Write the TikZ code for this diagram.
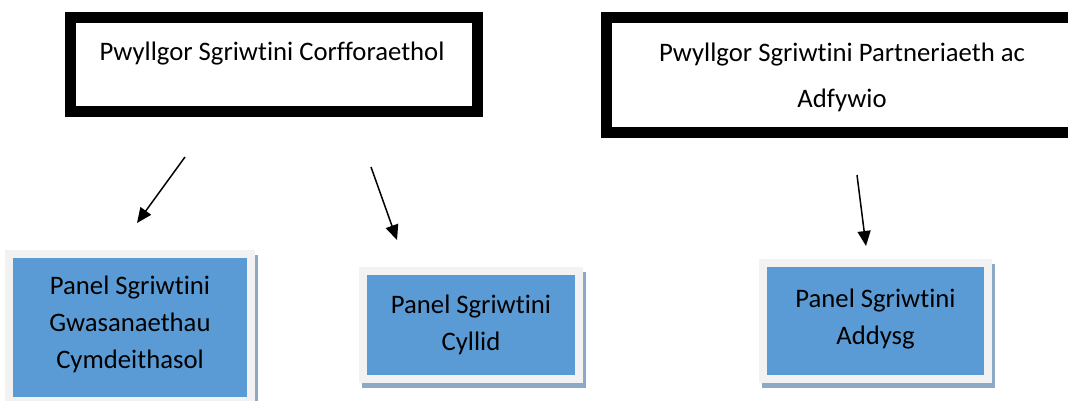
\documentclass[tikz,border=0pt]{standalone}
\usepackage{fontspec}
\setmainfont{Carlito}[Ligatures={NoCommon}]
\usetikzlibrary{arrows.meta}
\definecolor{panelblue}{HTML}{5B9BD5}
\definecolor{panelgray}{HTML}{F2F2F2}
\definecolor{panelshadow}{HTML}{8EA9C8}
\begin{document}
\begin{tikzpicture}[x=1pt,y=-1pt,
  committee/.style={draw=black, line width=11pt, fill=white, inner sep=0pt, outer sep=0pt},
  labeltext/.style={font=\fontsize{26.7}{46}\selectfont, align=center, inner sep=0pt, anchor=base},
  panel/.style={fill=panelblue, draw=panelgray, line width=8pt, inner sep=0pt, outer sep=0pt,
    align=center, font=\fontsize{26.7}{37}\selectfont,
    preaction={draw=panelshadow, fill=panelshadow, line width=8pt, transform canvas={shift={(3pt,-5pt)}}}},
  link/.style={draw=black, line width=1.5pt, -{Triangle[length=15pt,width=13pt]}}]
\useasboundingbox (0,0) rectangle (1068,401);
\fill[white] (0,0) rectangle (1068,401);

% committees
\node[committee, minimum width=407pt, minimum height=94pt] (corf) at (274,64.5) {};
\node[labeltext] (corft) at (272,61) {Pwyllgor Sgriwtini Corfforaethol};
\node[committee, minimum width=473.5pt, minimum height=115pt] (part) at (843.25,75) {};
\node[labeltext] (partt) at (842,108) {Pwyllgor Sgriwtini Partneriaeth ac\\Adfywio};

% panels
\node[panel, minimum width=242pt, minimum height=147pt] (gwas) at (130,327.5)
  {Panel Sgriwtini\\Gwasanaethau\\Cymdeithasol\vphantom{p}\vspace{6pt}};
\node[panel, minimum width=216pt, minimum height=108pt] (cyll) at (471,325)
  {Panel Sgriwtini\\Cyllid};
\node[panel, minimum width=225pt, minimum height=116pt] (addy) at (875.5,321)
  {Panel Sgriwtini\\Addysg\vspace{4pt}};

% arrows
\coordinate (a1s) at (185,157);
\coordinate (a1e) at (137,223);
\coordinate (a2s) at (371,167);
\coordinate (a2e) at (397,240);
\coordinate (a3s) at (857,175);
\coordinate (a3e) at (866,246);
\draw[link] (a1s) -- (a1e);
\draw[link] (a2s) -- (a2e);
\draw[link] (a3s) -- (a3e);
\end{tikzpicture}
\end{document}
